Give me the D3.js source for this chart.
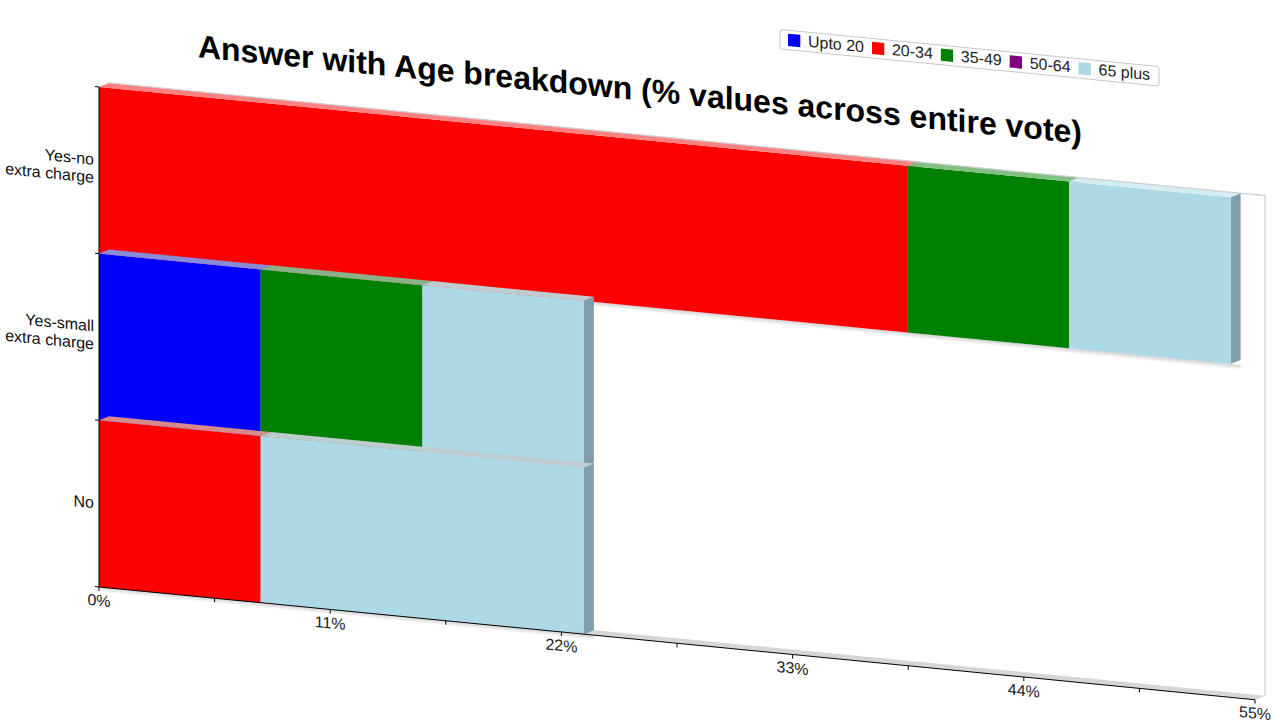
<!DOCTYPE html>
<html><head><meta charset="utf-8">
<script src="https://cdn.jsdelivr.net/npm/d3@7"></script>
<style>body{margin:0;background:#fff;} svg{display:block;}</style>
</head><body>
<svg id="c" width="1280" height="720"></svg>
<script>
// ---- data ----
const categories = ["Yes-no extra charge", "Yes-small extra charge", "No"];
const categoryLines = [["Yes-no", "extra charge"], ["Yes-small", "extra charge"], ["No"]];
const seriesNames = ["Upto 20", "20-34", "35-49", "50-64", "65 plus"];
const seriesColors = ["#0000ff", "#ff0000", "#008000", "#800080", "#add8e6"];
const upto20   = [0, 7.69, 0];
const age20_34 = [38.46, 0, 7.69];
const age35_49 = [7.69, 7.69, 0];
const age50_64 = [0, 0, 0];
const age65plus = [7.69, 7.69, 15.38];
const xTicks = [0, 11, 22, 33, 44, 55];
const xMinorTicks = [5.5, 16.5, 27.5, 38.5, 49.5];
const titleText = "Answer with Age breakdown (% values across entire vote)";

const seriesValues = [upto20, age20_34, age35_49, age50_64, age65plus];

// ---- layout ----
const K = 0.0975;          // skew factor
const DX = 10, DY = -5;    // 3D depth offset
const font = "'Liberation Sans', Arial, sans-serif";

const x = d3.scaleLinear().domain([0, 55]).range([99, 1255]);
const y = d3.scaleBand().domain(categories).range([77.3, 577.3]).padding(0);

const svg = d3.select("#c");
const defs = svg.append("defs");
const grad = defs.append("linearGradient").attr("id", "shadow")
  .attr("x1", 0).attr("y1", 0).attr("x2", 0).attr("y2", 1);
grad.append("stop").attr("offset", "0%").attr("stop-color", "#000").attr("stop-opacity", 0.18);
grad.append("stop").attr("offset", "100%").attr("stop-color", "#000").attr("stop-opacity", 0);

const g = svg.append("g").attr("transform", `matrix(1,${K},0,1,0,0)`);

const x0 = x(0), xMax = x(55);
const yTop = y.range()[0], yBot = y.range()[1];
const poly = pts => pts.map(p => p.join(",")).join(" ");

// left wall and floor
g.append("polygon").attr("points", poly([[x0, yTop], [x0 + DX, yTop + DY], [x0 + DX, yBot + DY], [x0, yBot]]))
  .attr("fill", "#d4d4d4");
g.append("polygon").attr("points", poly([[x0, yBot], [xMax, yBot], [xMax + DX, yBot + DY], [x0 + DX, yBot + DY]]))
  .attr("fill", "#d6d6d6");

// stacked bars
const stackData = categories.map((c, i) => {
  let acc = 0;
  const segs = [];
  seriesValues.forEach((vals, j) => {
    const v = vals[i];
    if (v > 0) { segs.push({ j, a: acc, b: acc + v }); }
    acc += v;
  });
  return { c, i, segs, total: acc };
});

stackData.forEach(row => {
  const t = y(row.c), b = t + y.bandwidth();
  g.append("rect").attr("x", x(0) + 2).attr("y", b).attr("width", x(row.total) - x(0) + DX - 2).attr("height", 5)
    .attr("fill", "url(#shadow)");
  row.segs.forEach(s => {
    const xa = x(s.a), xb = x(s.b);
    const col = seriesColors[s.j];
    const side = d3.interpolateRgb(col, "#6f8f9c")(0.55);
    let topc = d3.interpolateRgb(col, "#ffffff")(0.5);
    if (row.i > 0) topc = d3.interpolateRgb(topc, "#9a9a9a")(0.4);
    g.append("polygon").attr("points", poly([[xb, t], [xb + DX, t + DY], [xb + DX, b + DY], [xb, b]]))
      .attr("fill", s.j === 4 ? "#809fab" : side);
    g.append("rect").attr("x", xa).attr("y", t).attr("width", xb - xa).attr("height", b - t).attr("fill", col);
    g.append("polygon").attr("points", poly([[xa, t], [xb, t], [xb + DX, t + DY], [xa + DX, t + DY]]))
      .attr("fill", topc);
  });
});

// back wall border (top and right)
g.append("path").attr("d", `M${x0 + DX},${yTop + DY}H${xMax + DX}V${yBot + DY}`)
  .attr("fill", "none").attr("stroke", "#cfcfcf").attr("stroke-width", 1.2);

// axes
g.append("line").attr("x1", x0).attr("x2", x0).attr("y1", yTop).attr("y2", yBot).attr("stroke", "#000");
const yBounds = [yTop].concat(categories.map(c => y(c) + y.bandwidth()));
g.selectAll(".ytick").data(yBounds).enter().append("line")
  .attr("x1", x0 - 4).attr("x2", x0).attr("y1", d => d).attr("y2", d => d).attr("stroke", "#000");
g.append("line").attr("x1", x0).attr("x2", xMax).attr("y1", yBot).attr("y2", yBot).attr("stroke", "#000");
g.selectAll(".xtick").data(xTicks.concat(xMinorTicks)).enter().append("line")
  .attr("x1", d => x(d)).attr("x2", d => x(d)).attr("y1", yBot).attr("y2", yBot + 4).attr("stroke", "#000");
g.selectAll(".xlabel").data(xTicks).enter().append("text")
  .attr("x", d => x(d)).attr("y", yBot + 19).attr("text-anchor", "middle")
  .attr("font-family", font).attr("font-size", 16).attr("fill", "#222")
  .text(d => d + "%");

// category labels
categories.forEach((c, i) => {
  const lines = categoryLines[i];
  const cy = y(c) + y.bandwidth() / 2;
  const txt = g.append("text").attr("text-anchor", "end").attr("font-family", font)
    .attr("font-size", 16).attr("fill", "#111");
  if (lines.length === 1) {
    txt.append("tspan").attr("x", 94).attr("y", cy + 5).text(lines[0]);
  } else {
    lines.forEach((l, k) => txt.append("tspan").attr("x", 94).attr("y", cy - 5 + k * 18).text(l));
  }
});

// title
g.append("text").attr("x", 640).attr("y", 38).attr("text-anchor", "middle")
  .attr("font-family", font).attr("font-size", 32).attr("font-weight", "bold").attr("fill", "#000")
  .text(titleText);

// legend
const lg = g.append("g");
lg.append("rect").attr("x", 780).attr("y", -46.5).attr("width", 379).attr("height", 19.5).attr("rx", 3)
  .attr("fill", "#fff").attr("stroke", "#c8c8c8");
let lx = 788;
seriesNames.forEach((n, j) => {
  lg.append("rect").attr("x", lx).attr("y", -43.2).attr("width", 12.3).attr("height", 12.3).attr("fill", seriesColors[j]);
  const t = lg.append("text").attr("x", lx + 20).attr("y", -32).attr("font-family", font)
    .attr("font-size", 16).attr("fill", "#222").text(n);
  lx = lx + 20 + t.node().getComputedTextLength() + 8;
});
</script>
</body></html>
